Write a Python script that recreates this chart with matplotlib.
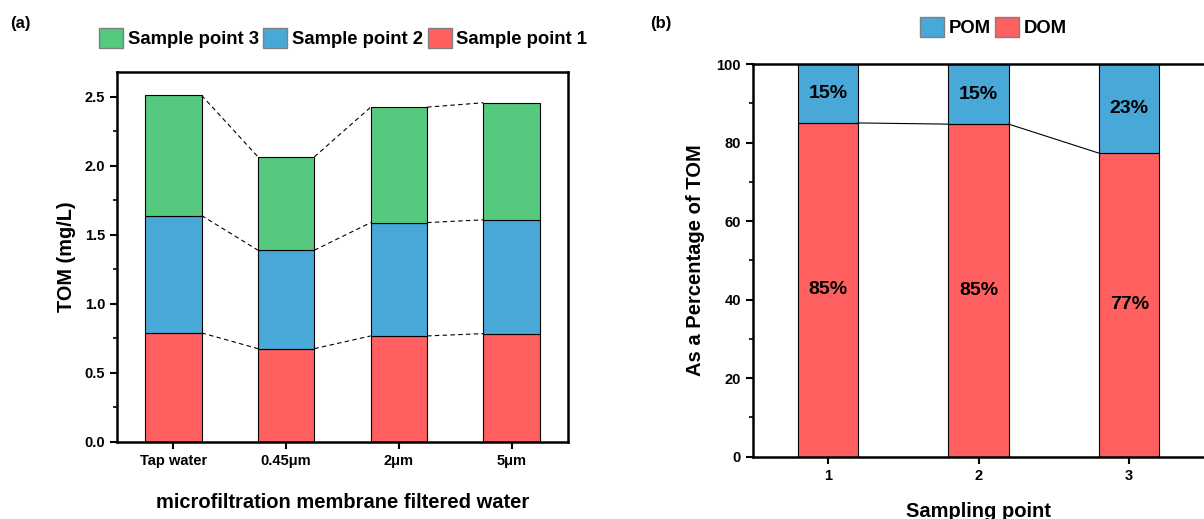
import numpy as np
import matplotlib.pyplot as plt
from matplotlib.patches import Patch
from matplotlib.ticker import MultipleLocator

plt.rcParams['font.family'] = ['Liberation Sans', 'DejaVu Sans']
plt.rcParams['font.weight'] = 'bold'

# panel (a) data
categories = ["Tap water", "0.45\u03bcm", "2\u03bcm", "5\u03bcm"]
sample1 = [0.79, 0.676, 0.768, 0.785]
sample2 = [0.85, 0.713, 0.821, 0.824]
sample3 = [0.87, 0.676, 0.836, 0.848]

# panel (b) data
points = [1, 2, 3]
dom = [85.0, 84.7, 77.3]
pom = [15.0, 15.3, 22.7]
dom_labels = ["85%", "85%", "77%"]
pom_labels = ["15%", "15%", "23%"]

red = "#FF5F5F"
blue = "#48A8D8"
green = "#55C97E"

fig = plt.figure(figsize=(12.04, 5.19), dpi=100)

# ---- (a) stacked TOM bars
ax1 = fig.add_axes([0.0972, 0.1484, 0.3746, 0.713])
x = np.arange(len(categories))
w = 0.5
b1 = np.array(sample1)
b2 = b1 + np.array(sample2)
b3 = b2 + np.array(sample3)
ax1.bar(x, sample1, w, color=red, edgecolor="black", linewidth=0.8)
ax1.bar(x, sample2, w, bottom=b1, color=blue, edgecolor="black", linewidth=0.8)
ax1.bar(x, sample3, w, bottom=b2, color=green, edgecolor="black", linewidth=0.8)

# dashed lines between neighbouring bar tops
for tops in (b1, b2, b3):
    for i in range(len(x) - 1):
        ax1.plot([x[i] + w / 2, x[i + 1] - w / 2], [tops[i], tops[i + 1]],
                 ls=(0, (4, 3)), color="black", lw=0.8)

ax1.set_xlim(-0.5, 3.5)
ax1.set_ylim(0, 2.68)
ax1.set_xticks(x)
ax1.set_xticklabels(categories)
ax1.yaxis.set_major_locator(MultipleLocator(0.5))
ax1.yaxis.set_minor_locator(MultipleLocator(0.25))
ax1.tick_params(axis="both", which="major", direction="out", width=1.5, length=5, labelsize=10.5)
ax1.tick_params(axis="y", which="minor", direction="out", width=1.2, length=3)
ax1.set_ylabel("TOM (mg/L)", fontsize=14.3, fontweight="bold", labelpad=6)
ax1.set_xlabel("microfiltration membrane filtered water", fontsize=14.5, fontweight="bold", labelpad=18)
for s in ax1.spines.values():
    s.set_linewidth(1.8)

handles_a = [Patch(facecolor=green, edgecolor="grey", label="Sample point 3"),
             Patch(facecolor=blue, edgecolor="grey", label="Sample point 2"),
             Patch(facecolor=red, edgecolor="grey", label="Sample point 1")]
fig.legend(handles=handles_a, loc="center", bbox_to_anchor=(0.285, 0.927), ncol=3,
           frameon=False, fontsize=13.3, handlelength=1.3, handleheight=1.3,
           handletextpad=0.25, columnspacing=0.25)

# ---- (b) percentage bars (right edge falls on the figure border)
ax2 = fig.add_axes([0.6252, 0.120, 0.3752, 0.7566])
wb = 0.4
ax2.bar(points, dom, wb, color=red, edgecolor="black", linewidth=0.8)
ax2.bar(points, pom, wb, bottom=dom, color=blue, edgecolor="black", linewidth=0.8)
for i in range(len(points) - 1):
    ax2.plot([points[i] + wb / 2, points[i + 1] - wb / 2], [dom[i], dom[i + 1]],
             color="black", lw=0.8)
for i, p in enumerate(points):
    ax2.text(p, dom[i] / 2, dom_labels[i], ha="center", va="center", fontsize=14, fontweight="bold")
    ax2.text(p, dom[i] + pom[i] / 2, pom_labels[i], ha="center", va="center", fontsize=14, fontweight="bold")

ax2.set_xlim(0.5, 3.5)
ax2.set_ylim(0, 100)
ax2.set_xticks(points)
ax2.yaxis.set_major_locator(MultipleLocator(20))
ax2.yaxis.set_minor_locator(MultipleLocator(10))
ax2.tick_params(axis="both", which="major", direction="out", width=1.5, length=5, labelsize=10.5)
ax2.tick_params(axis="y", which="minor", direction="out", width=1.2, length=3)
ax2.set_ylabel("As a Percentage of TOM", fontsize=14.5, fontweight="bold", labelpad=8)
ax2.set_xlabel("Sampling point", fontsize=14.5, fontweight="bold", labelpad=14)
for s in ax2.spines.values():
    s.set_linewidth(1.8)
ax2.spines["right"].set_visible(False)

handles_b = [Patch(facecolor=blue, edgecolor="grey", label="POM"),
             Patch(facecolor=red, edgecolor="grey", label="DOM")]
fig.legend(handles=handles_b, loc="center", bbox_to_anchor=(0.825, 0.948), ncol=2,
           frameon=False, fontsize=13.3, handlelength=1.3, handleheight=1.3,
           handletextpad=0.25, columnspacing=0.25)

fig.text(0.008, 0.955, "(a)", fontsize=12, fontweight="bold", va="center")
fig.text(0.540, 0.955, "(b)", fontsize=12, fontweight="bold", va="center")

fig.savefig("out.png", dpi=100)
